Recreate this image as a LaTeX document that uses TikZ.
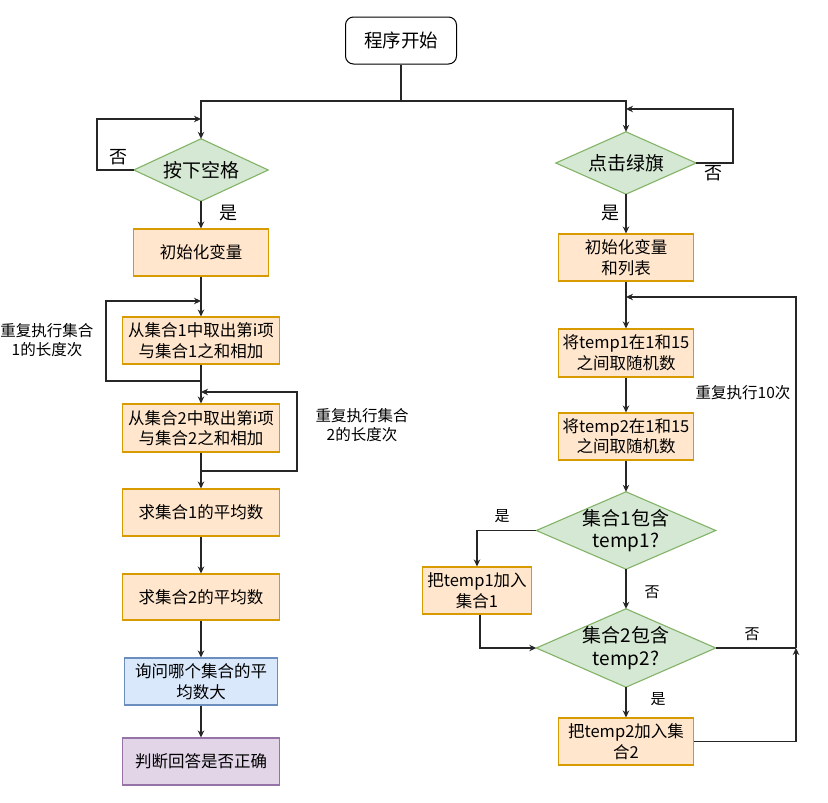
\documentclass[tikz,border=0pt]{standalone}
\usepackage{fontspec}
\newfontfamily\cjk{Noto Sans CJK SC}
\usetikzlibrary{arrows.meta,backgrounds}
\definecolor{ofill}{HTML}{FFE6CC}
\definecolor{odraw}{HTML}{D79B00}
\definecolor{gfill}{HTML}{D5E8D4}
\definecolor{gdraw}{HTML}{82B366}
\definecolor{bfill}{HTML}{DAE8FC}
\definecolor{bdraw}{HTML}{6C8EBF}
\definecolor{pfill}{HTML}{E1D5E7}
\definecolor{pdraw}{HTML}{9673A6}
\definecolor{ln}{HTML}{262626}
\begin{document}
\begin{tikzpicture}[x=1pt,y=-1pt,
  base/.style={font=\cjk\fontsize{16.5}{20.5}\selectfont, align=center, inner sep=0pt, text=black},
  obox/.style={base, rectangle, draw=odraw, fill=ofill, line width=1.1pt},
  bbox/.style={base, rectangle, draw=bdraw, fill=bfill, line width=1.1pt},
  pbox/.style={base, rectangle, draw=pdraw, fill=pfill, line width=1.1pt},
  startbox/.style={base, font=\cjk\fontsize{18.5}{22}\selectfont, rectangle, rounded corners=8pt, draw=black, fill=white, line width=1pt},
  dia/.style={base, rectangle, font=\cjk\fontsize{19}{22.5}\selectfont},
  diapath/.style={draw=gdraw, fill=gfill, line width=1.1pt},
  conn/.style={draw=ln, line width=1.1pt},
  arr/.style={conn, -{Stealth[length=7pt,width=6.5pt]}},
  lbl/.style={font=\cjk\fontsize{18}{20}\selectfont, inner sep=0pt},
  slbl/.style={font=\cjk\fontsize{15}{18}\selectfont, inner sep=0pt},
  note/.style={font=\cjk\fontsize{15.5}{19.5}\selectfont, align=center, inner sep=0pt}
]
\path[use as bounding box] (0,0) rectangle (828,803);

% nodes
\node[startbox, minimum width=111pt, minimum height=47pt] (start) at (401,40.5) {程序开始};
\node[dia, minimum width=134pt, minimum height=62pt] (dL) at (201,170) {按下空格};
\node[obox, minimum width=135pt, minimum height=47pt] (init) at (201,252.5) {初始化变量};
\node[dia, minimum width=140pt, minimum height=62pt] (dR) at (626,163) {点击绿旗};
\node[obox, minimum width=135pt, minimum height=47pt] (initR) at (626,257.5) {初始化变量\\和列表};

\node[obox, minimum width=157pt, minimum height=47pt] (b1) at (201,340.5) {从集合1中取出第i项\\与集合1之和相加};
\node[obox, minimum width=157pt, minimum height=48pt] (b2) at (201,428) {从集合2中取出第i项\\与集合2之和相加};
\node[obox, minimum width=157pt, minimum height=47pt] (b3) at (201,512.5) {求集合1的平均数};
\node[obox, minimum width=157pt, minimum height=46pt] (b4) at (201,597) {求集合2的平均数};
\node[bbox, minimum width=153pt, minimum height=47pt] (b5) at (201,681.5) {询问哪个集合的平\\均数大};
\node[pbox, minimum width=157pt, minimum height=47pt] (b6) at (201,761.5) {判断回答是否正确};

\node[obox, minimum width=135pt, minimum height=48pt] (t1) at (626,353) {将temp1在1和15\\之间取随机数};
\node[obox, minimum width=135pt, minimum height=47pt] (t2) at (626,436.5) {将temp2在1和15\\之间取随机数};
\node[dia, minimum width=179pt, minimum height=77pt] (d1) at (626,530.5) {集合1包含\\temp1?};
\node[obox, minimum width=109pt, minimum height=47pt] (a1) at (477,590.5) {把temp1加入\\集合1};
\node[dia, minimum width=179pt, minimum height=78pt] (d2) at (626,648) {集合2包含\\temp2?};
\node[obox, minimum width=135pt, minimum height=47pt] (a2) at (626,741.5) {把temp2加入集\\合2};

\begin{scope}[on background layer]
  \foreach \d in {dL,dR,d1,d2}
    \path[diapath] (\d.north) -- (\d.east) -- (\d.south) -- (\d.west) -- cycle;
\end{scope}

% coordinates
\coordinate (split) at (401,101);
\coordinate (jL) at (201,119);
\coordinate (jR) at (626,109);
\coordinate (j1) at (201,301);
\coordinate (c1) at (201,381);
\coordinate (j2) at (201,392);
\coordinate (c2) at (201,471);
\coordinate (jT) at (626,297);
\coordinate (m) at (796,648);

% connectors
\draw[conn] (start) -- (split);
\draw[arr] (split) -| (dL.north);
\draw[arr] (split) -| (dR.north);
\draw[arr] (dL.west) -- (97,170) |- (jL);
\draw[arr] (dR.east) -- (733,163) |- (jR);
\draw[arr] (dL) -- (init);
\draw[arr] (dR) -- (initR);

\draw[arr] (init) -- (b1);
\draw[arr] (c1) -- (106,381) |- (j1);
\draw[arr] (b1) -- (b2);
\draw[arr] (c2) -- (297,471) |- (j2);
\draw[arr] (b2) -- (b3);
\draw[arr] (b3) -- (b4);
\draw[arr] (b4) -- (b5);
\draw[arr] (b5) -- (b6);

\draw[arr] (initR) -- (t1);
\draw[arr] (t1) -- (t2);
\draw[arr] (t2) -- (d1);
\draw[arr] (d1.west) -| (a1.north);
\draw[arr] ([xshift=3pt]a1.south) |- (d2.west);
\draw[arr] (d1) -- (d2);
\draw[arr] (d2) -- (a2);
\draw[conn] (d2.east) -- (m);
\draw[arr] (a2.east) -| (m);
\draw[arr] (m) |- (jT);

% labels
\node[lbl] (nL) at (118,157) {否};
\node[lbl] (yL) at (228,213) {是};
\node[lbl] (nR) at (713,173) {否};
\node[lbl] (yR) at (610,213) {是};
\node[note] (r1) at (47,340) {重复执行集合\\1的长度次};
\node[note] (r2) at (362,425) {重复执行集合\\2的长度次};
\node[note] (r3) at (743,393) {重复执行10次};
\node[slbl] (y1) at (502,516) {是};
\node[slbl] (n1) at (652,592) {否};
\node[slbl] (n2) at (752,634) {否};
\node[slbl] (y2) at (658,699) {是};
\end{tikzpicture}
\end{document}
